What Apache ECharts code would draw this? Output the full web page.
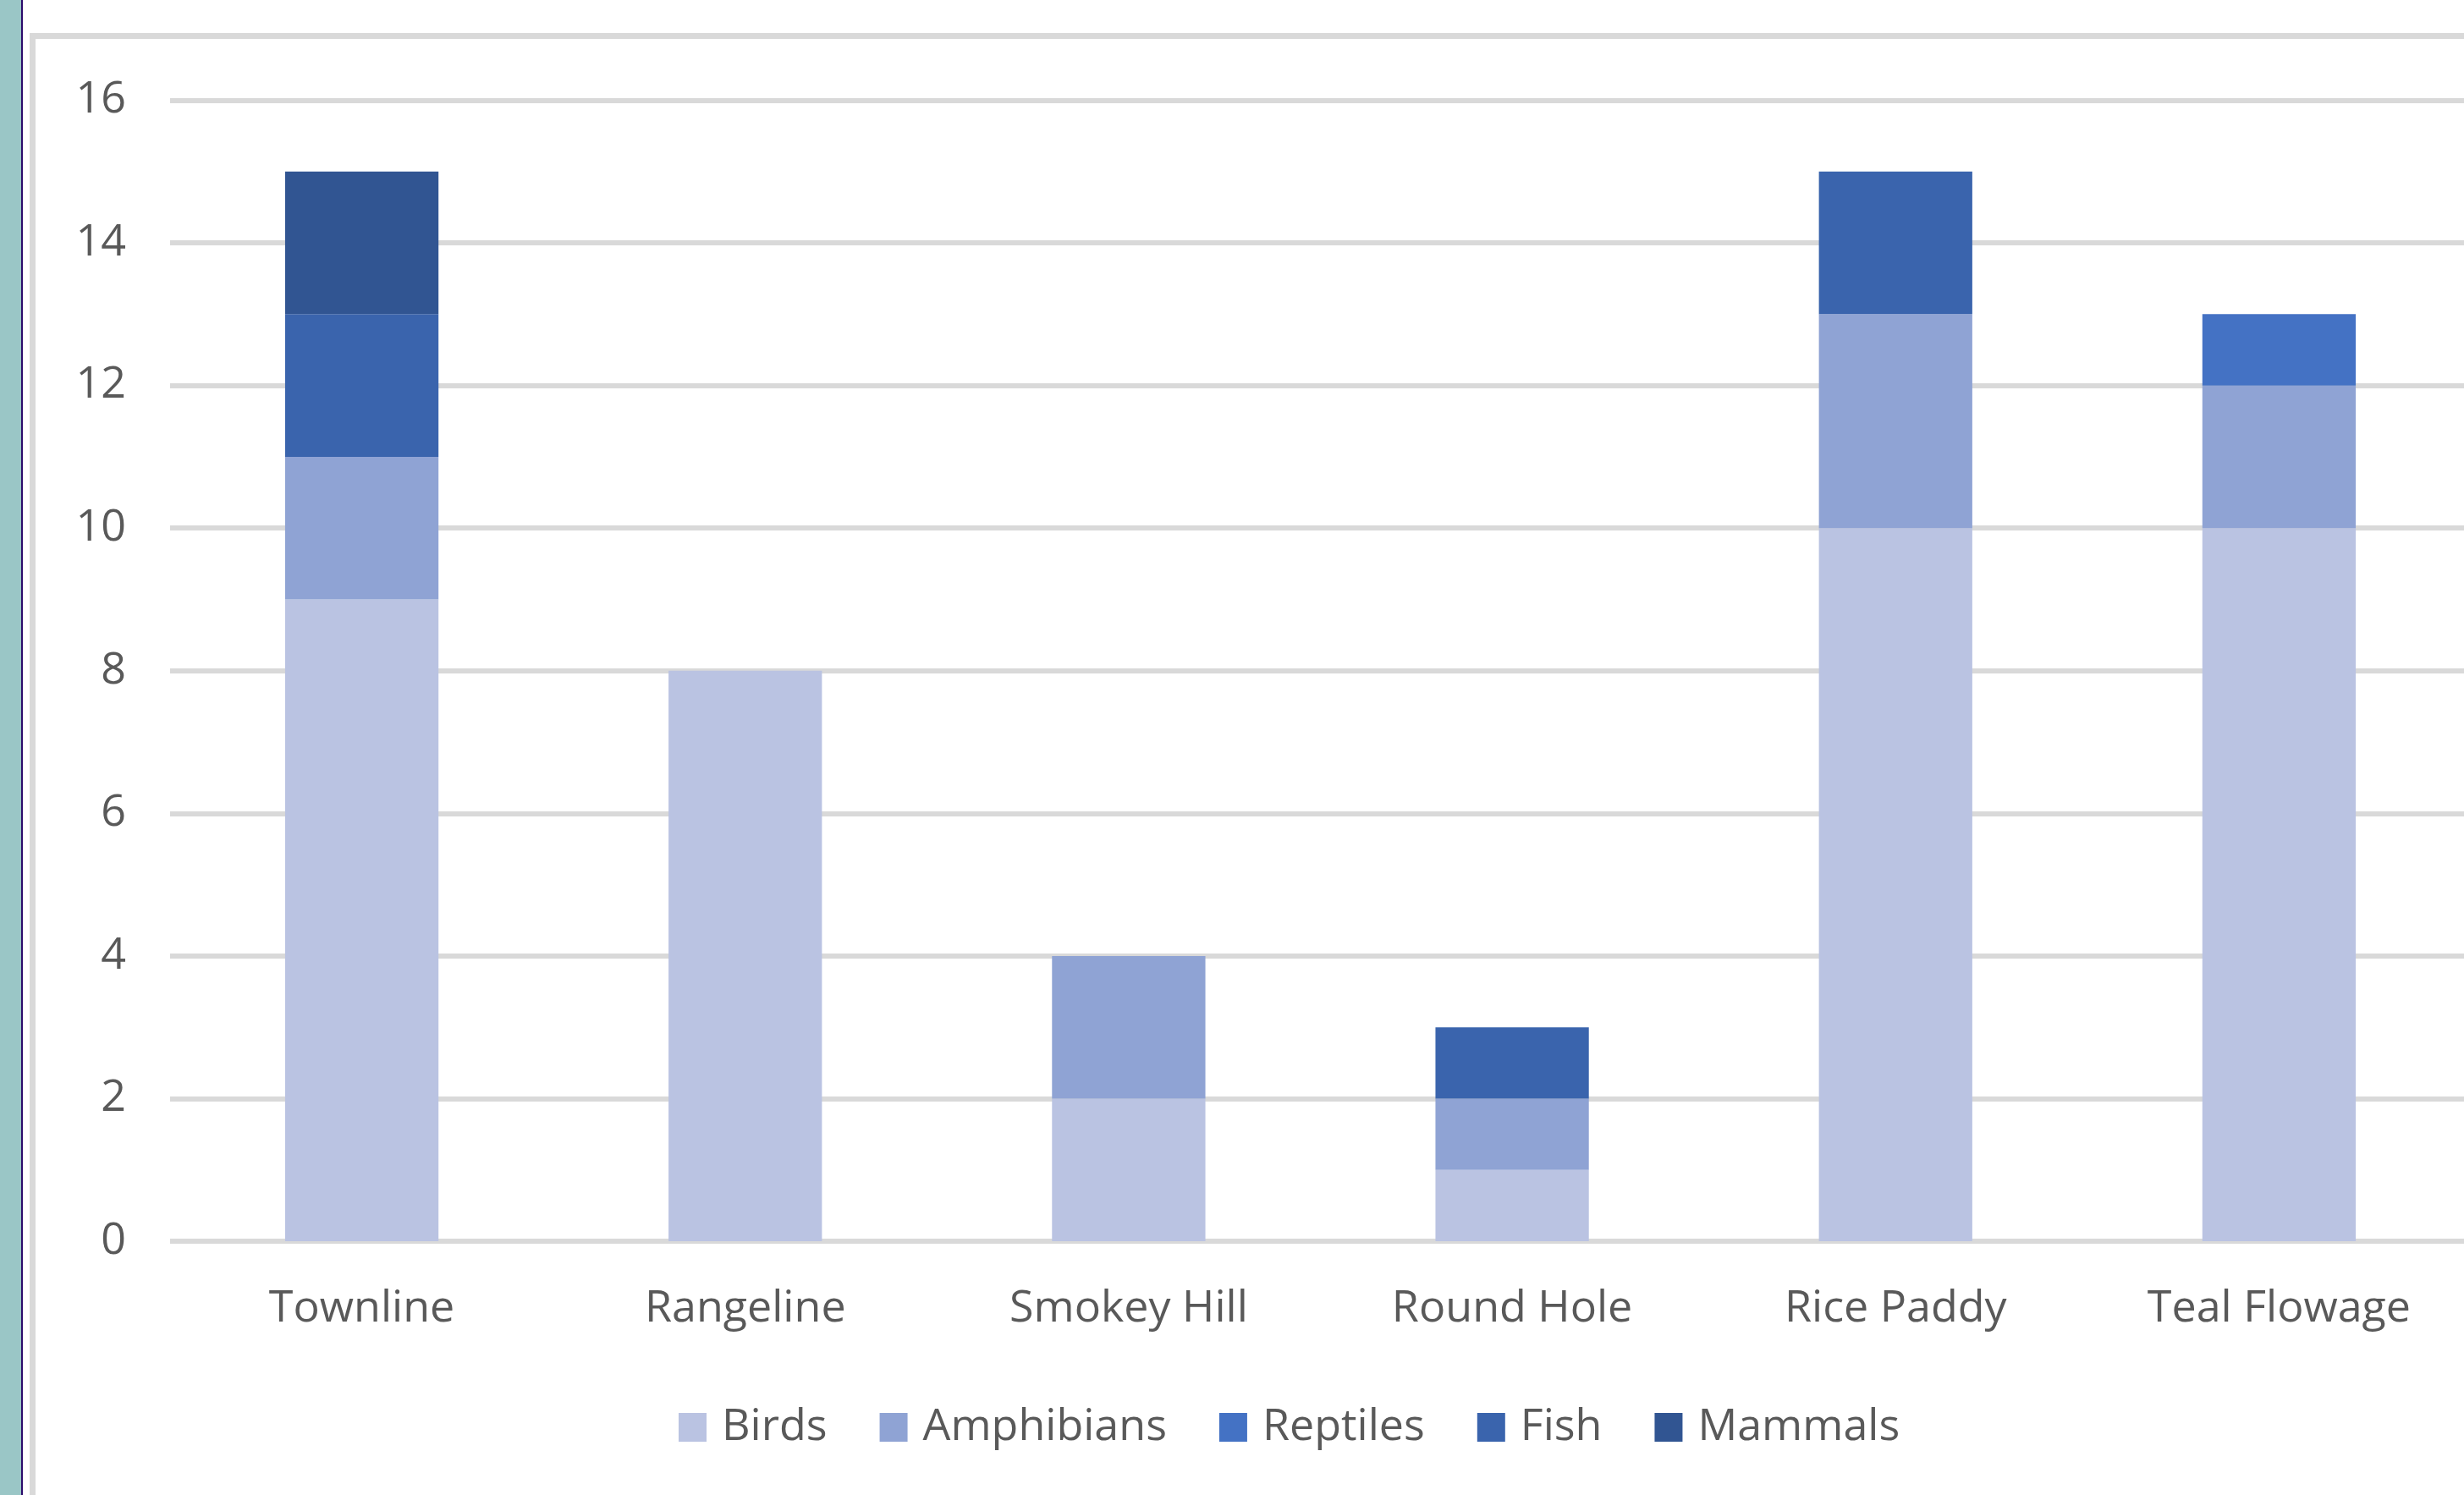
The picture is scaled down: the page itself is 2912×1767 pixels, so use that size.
<!DOCTYPE html>
<html>
<head>
<meta charset="utf-8">
<script src="https://cdn.jsdelivr.net/npm/echarts@6/dist/echarts.min.js"></script>
<style>
  html, body { margin: 0; padding: 0; background: #ffffff; overflow: hidden; }
  /* the chart canvas runs a little past the right edge of the page */
  #chart { width: 2920px; height: 1767px; }
</style>
</head>
<body>
<div id="chart"></div>
<script>
// Species counts observed at each site, stacked by group
const sites = ['Townline', 'Rangeline', 'Smokey Hill', 'Round Hole', 'Rice Paddy', 'Teal Flowage'];
const birds      = [9, 8, 2, 1, 10, 10];
const amphibians = [2, 0, 2, 1, 3, 2];
const reptiles   = [0, 0, 0, 0, 0, 1];
const fish       = [2, 0, 0, 1, 2, 0];
const mammals    = [2, 0, 0, 0, 0, 0];
const groupNames = ['Birds', 'Amphibians', 'Reptiles', 'Fish', 'Mammals'];
const groupColors = ['#BAC3E2', '#8FA3D4', '#4472C4', '#3A64AD', '#315592'];

const groupValues = [birds, amphibians, reptiles, fish, mammals];
const textColor = '#595959';
const fontFamily = '"Open Sans", "Noto Sans", sans-serif';

const chart = echarts.init(document.getElementById('chart'), null, { renderer: 'canvas' });

chart.setOption({
  backgroundColor: '#ffffff',
  animation: false,
  textStyle: { fontFamily: fontFamily, color: textColor },
  grid: { left: 201, right: 0, top: 118.5, bottom: 300, containLabel: false },
  legend: {
    left: 797,
    top: 1656,
    itemWidth: 33,
    itemHeight: 34,
    itemGap: 62,
    icon: 'rect',
    data: groupNames,
    textStyle: { fontSize: 52, color: textColor, fontFamily: fontFamily, padding: [0, 0, 0, 13] }
  },
  xAxis: {
    type: 'category',
    data: sites,
    axisLine: { show: false },
    axisTick: { show: false },
    axisLabel: { fontSize: 52, color: textColor, margin: 54, fontFamily: fontFamily }
  },
  yAxis: {
    type: 'value',
    min: 0,
    max: 16,
    interval: 2,
    axisLine: { show: false },
    axisTick: { show: false },
    axisLabel: { fontSize: 52, color: textColor, margin: 52, fontFamily: fontFamily },
    splitLine: { lineStyle: { color: '#D9D9D9', width: 6 } }
  },
  series: groupNames.map((name, i) => ({
    name: name,
    type: 'bar',
    stack: 'species',
    barWidth: '40%',
    data: groupValues[i],
    itemStyle: { color: groupColors[i] }
  })),
  graphic: [
    // teal side strip and its dark edge
    { type: 'rect', left: 0, top: 0, shape: { width: 25, height: 1767 }, style: { fill: '#9AC6C6' }, z: 10 },
    { type: 'rect', left: 25, top: 0, shape: { width: 2, height: 1767 }, style: { fill: '#2C0B6C' }, z: 10 },
    // outer frame of the chart area
    { type: 'rect', left: 35, top: 39, shape: { width: 7, height: 1728 }, style: { fill: '#D9D9D9' }, z: 10 },
    { type: 'rect', left: 35, top: 39, shape: { width: 2885, height: 7 }, style: { fill: '#D9D9D9' }, z: 10 }
  ]
});
</script>
</body>
</html>
